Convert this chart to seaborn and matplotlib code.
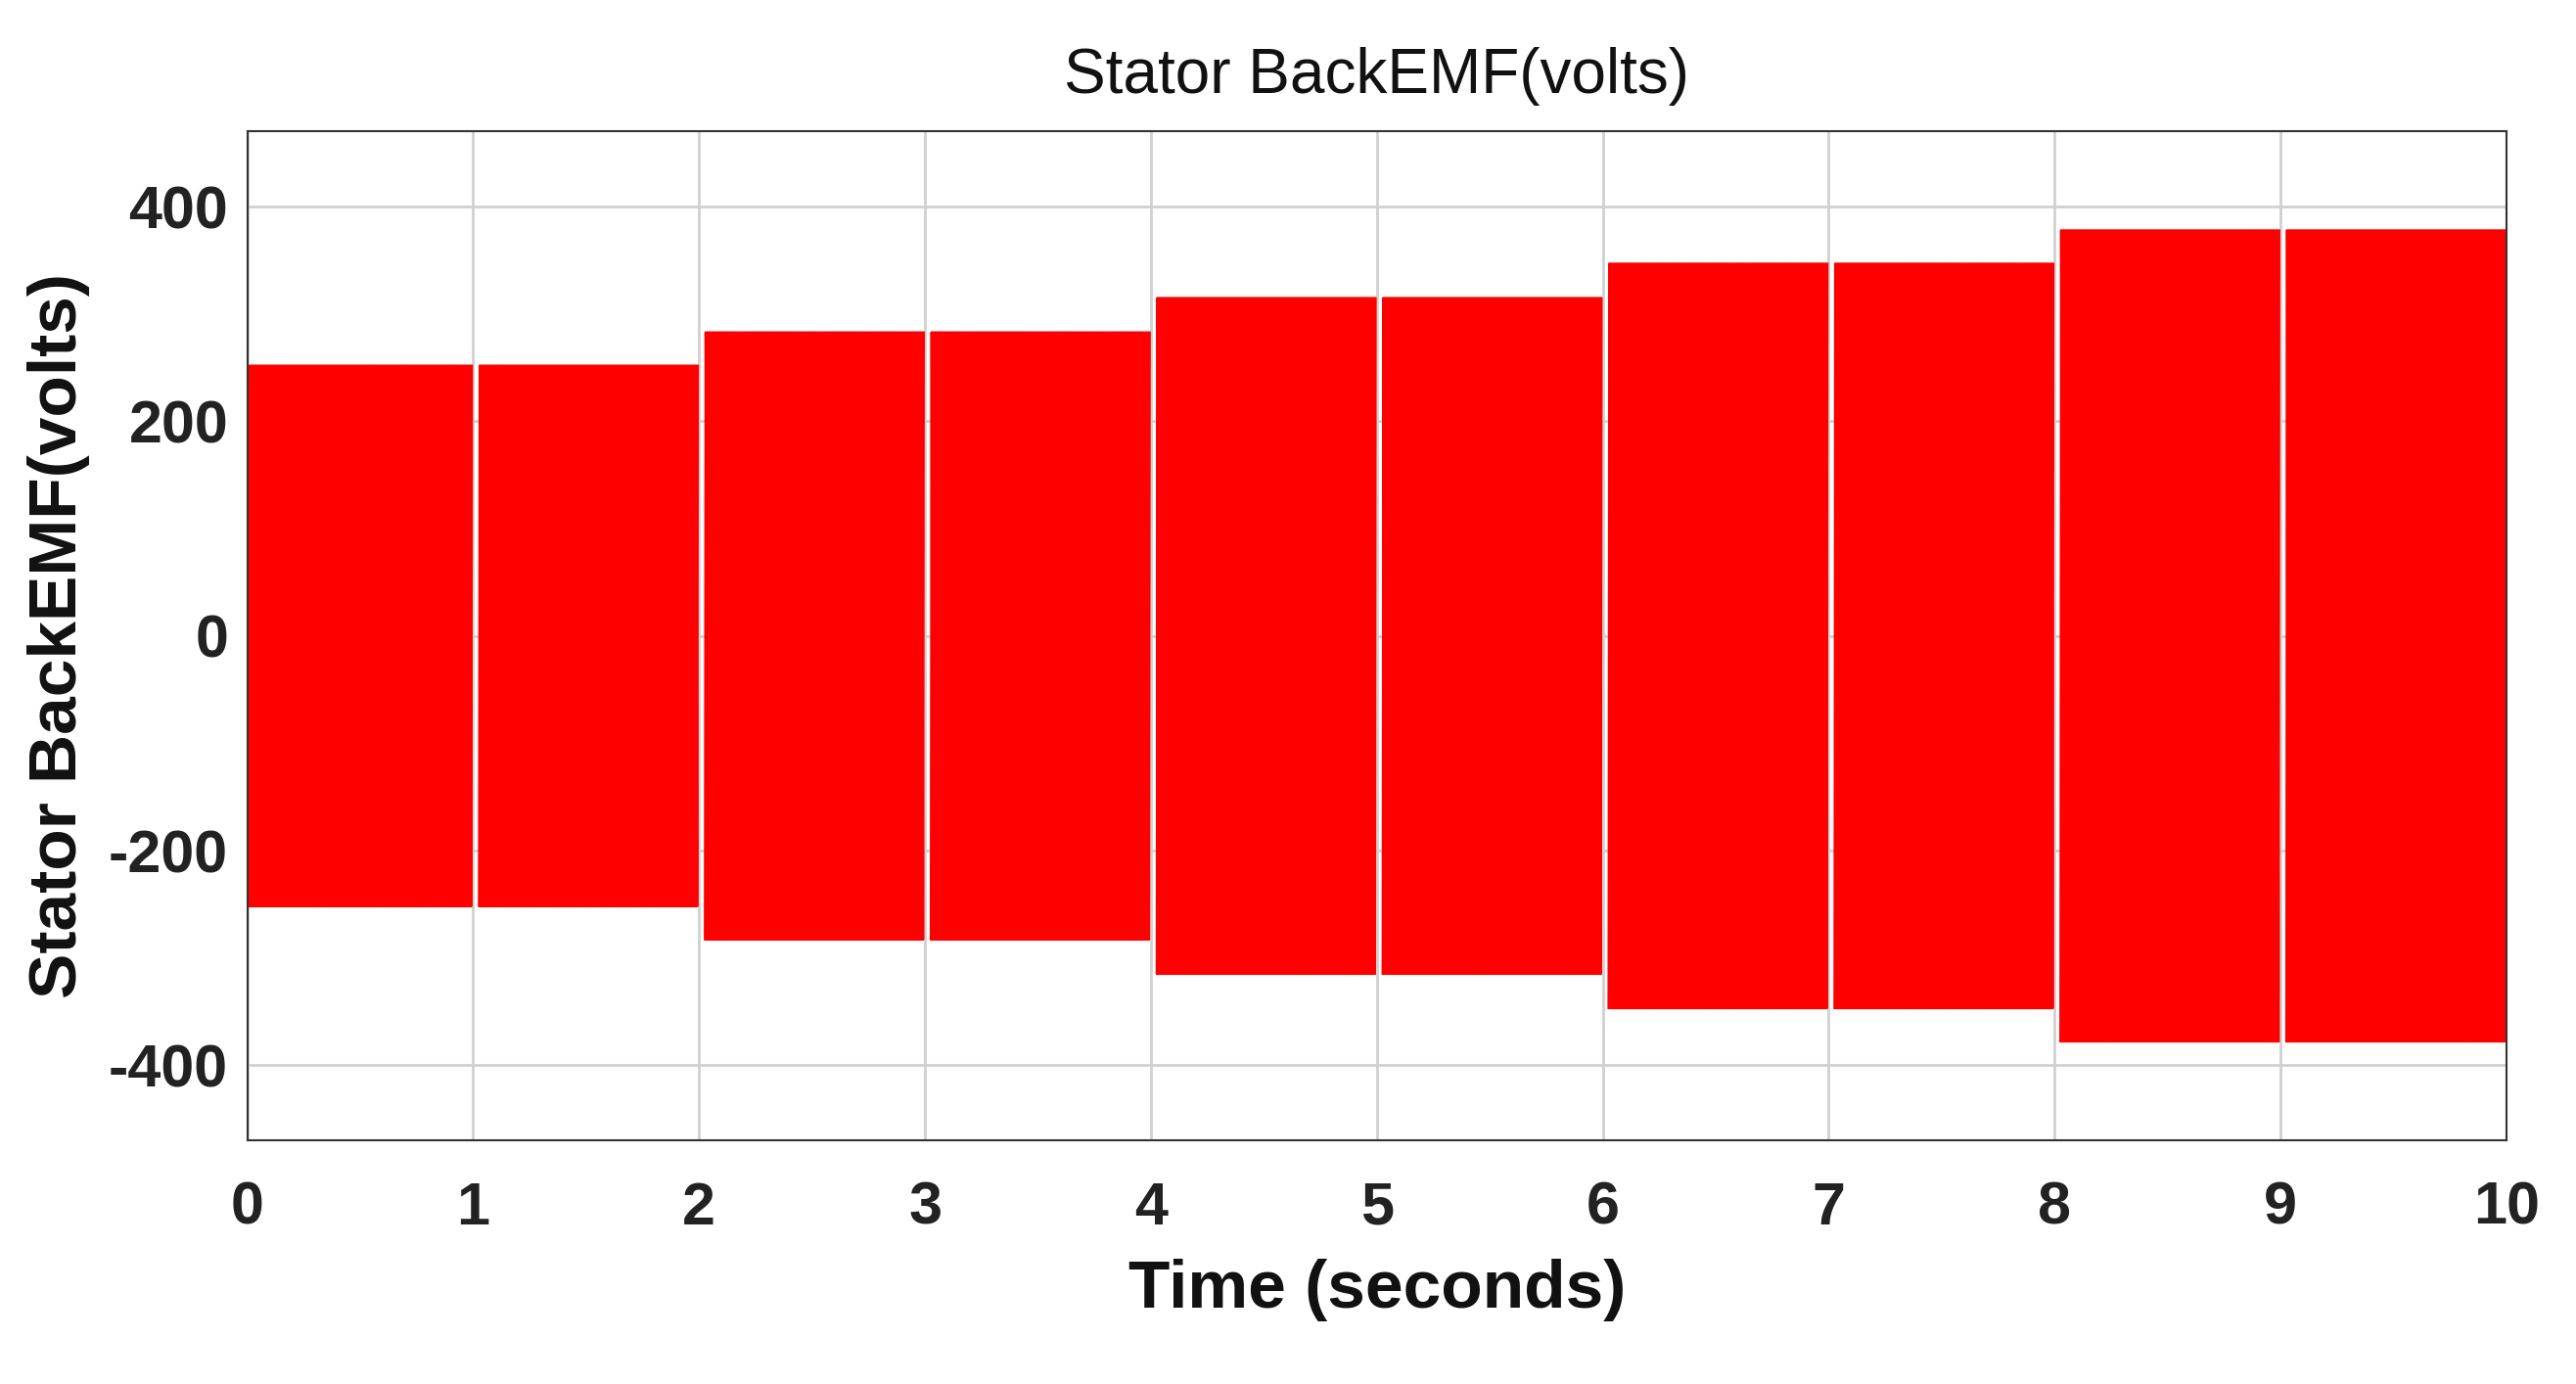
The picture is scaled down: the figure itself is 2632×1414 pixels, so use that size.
import numpy as np
import pandas as pd
import matplotlib
matplotlib.use("Agg")
import matplotlib.pyplot as plt
import seaborn as sns

seg_start = [0, 1, 2, 3, 4, 5, 6, 7, 8, 9]
seg_amp = [252, 252, 283, 283, 315, 315, 347, 347, 378, 378]
x_ticks = [0, 1, 2, 3, 4, 5, 6, 7, 8, 9, 10]
y_ticks = [-400, -200, 0, 200, 400]

sns.set_theme(style="white")
plt.rcParams['font.family'] = ['Liberation Sans', 'DejaVu Sans']
plt.rcParams['axes.unicode_minus'] = False

fig = plt.figure(figsize=(26.32, 14.14), dpi=100)
ax = fig.add_axes([0.096, 0.176, 0.881 - 0.004, 0.729])

freq = 150.0
for s, a in zip(seg_start, seg_amp):
    t0 = 0 if s == 0 else s + 0.025
    t = np.linspace(t0, s + 1.0 - 0.005, 60000)
    v = a * np.sin(2 * np.pi * freq * t)
    df = pd.DataFrame({"t": t, "v": v})
    sns.lineplot(data=df, x="t", y="v", ax=ax, color="#ff0000", lw=1.5, estimator=None, sort=False)

ax.set_xlim(0, 10)
ax.set_ylim(-470, 470)
ax.set_xticks(x_ticks)
ax.set_yticks(y_ticks)
ax.grid(True, color="#d0d0d0", lw=2)
ax.set_axisbelow(True)
for sp in ax.spines.values():
    sp.set_color("#333333"); sp.set_linewidth(1.5)
ax.tick_params(labelsize=44, length=0, pad=14, labelcolor="#222222")
ax.tick_params(axis="x", pad=30)
for lab in ax.get_xticklabels() + ax.get_yticklabels():
    lab.set_fontweight("bold")
ax.set_xlabel("Time (seconds)", fontsize=50, fontweight="bold", labelpad=16, color="#111111")
ax.set_ylabel("Stator BackEMF(volts)", fontsize=50, fontweight="bold", labelpad=14, color="#111111")
ax.set_title("Stator BackEMF(volts)", fontsize=46, pad=28, color="#111111")
fig.savefig("out.png", dpi=100)
